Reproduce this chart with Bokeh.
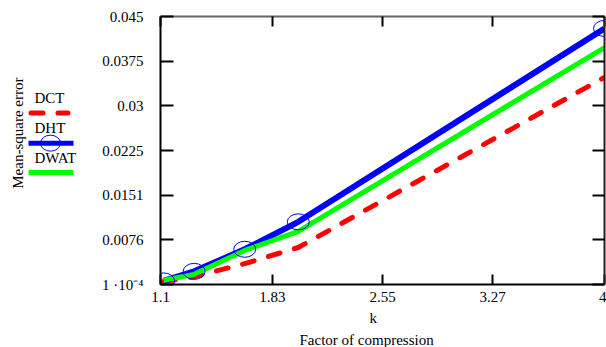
import math
from bokeh.plotting import figure
from bokeh.models import Range1d, LinearAxis, FixedTicker, Title
from bokeh.layouts import row
from bokeh.embed import file_html
from bokeh.resources import INLINE
from bokeh.core.properties import value

# ---- data ----
k_vals = [1.12, 1.32, 1.65, 2.0, 4.0]
dct_mse = [0.0006, 0.0014, 0.0036, 0.0063, 0.0348]
dht_mse = [0.0007, 0.0023, 0.0060, 0.0106, 0.0430]
dwat_mse = [0.0008, 0.0018, 0.0058, 0.0090, 0.0398]

x_ticks = [1.1, 1.83, 2.55, 3.27, 4.0]
x_tick_labels = ["1.1", "1.83", "2.55", "3.27", "4"]
y_ticks = [0.0001, 0.00758, 0.01507, 0.02255, 0.03003, 0.03752, 0.045]
y_tick_labels = ["1 \u00b710\u207b\u2074", "0.0076", "0.0151", "0.0225", "0.03", "0.0375", "0.045"]

series_names = ["DCT", "DHT", "DWAT"]
FONT = "Liberation Serif"
FS = "15px"
RED, BLUE, GREEN = "#ff0000", "#0000ff", "#00ff00"

H = 347
LW = 83
X0, X1 = 1.1, 4.0
Y0, Y1 = 0.0001, 0.045
FL, FR, FT, FB = 160, 604, 16, 284   # frame edges in page pixels

# ---------------- legend / y-title panel ----------------
lg = figure(width=LW, height=H, x_range=Range1d(0, LW), y_range=Range1d(H, 0),
            output_backend="svg", toolbar_location=None, min_border=0)
lg.axis.visible = False
lg.grid.visible = False
lg.outline_line_color = None
lg.text(x=[17], y=[151], text=["Mean-square error"], angle=math.pi / 2,
        text_font=value(FONT), text_font_size=value(FS), text_align="center",
        text_baseline="middle", text_color="#000000")
lg.text(x=[34, 34, 34], y=[106, 144, 183], text=series_names,
        text_font=value(FONT), text_font_size=value(FS), text_align="left",
        text_baseline="middle", text_color="#000000")
lg.line([30.5, 67.5], [125, 125], line_color=RED, line_width=5,
        line_dash="12 15", line_cap="round")
lg.line([28, 73], [164, 164], line_color=BLUE, line_width=5)
lg.ellipse(x=[50], y=[164], width=20, height=16, width_units="screen",
           height_units="screen", fill_color=None, line_color=BLUE, line_width=1)
lg.line([28, 73], [202, 202], line_color=GREEN, line_width=5)

# ---------------- main plot ----------------
p = figure(width=606 - LW, height=H, x_range=Range1d(X0, X1),
           y_range=Range1d(Y0, Y1), output_backend="svg",
           toolbar_location=None, min_border_left=FL - LW, min_border_right=606 - FR,
           min_border_top=FT, min_border_bottom=H - FB)
p.grid.visible = False
p.outline_line_color = None

p.line(k_vals, dct_mse, line_color=RED, line_width=5, line_dash="12 15",
       line_cap="round")
p.line(k_vals, dht_mse, line_color=BLUE, line_width=6)
p.line(k_vals, dwat_mse, line_color=GREEN, line_width=5)
p.ellipse(x=k_vals, y=dht_mse, width=22, height=16, width_units="screen",
          height_units="screen", fill_color=None, line_color=BLUE, line_width=1)


def style_axis(ax, ticks, labels, tick_in, show_labels, color="#000000"):
    ax.ticker = FixedTicker(ticks=ticks)
    ax.major_label_overrides = {t: l for t, l in zip(ticks, labels)}
    ax.minor_tick_line_color = None
    ax.major_tick_in = tick_in
    ax.major_tick_out = 0
    ax.major_tick_line_color = "#000000"
    ax.major_tick_line_width = 2
    ax.axis_line_color = color
    ax.axis_line_width = 2
    ax.major_label_text_font = FONT
    ax.major_label_text_color = "#000000"
    if show_labels:
        ax.major_label_text_font_size = FS
    else:
        ax.major_label_text_font_size = "0px"
        ax.major_label_standoff = 0


style_axis(p.xaxis[0], x_ticks, x_tick_labels, 10, True)
p.xaxis[0].major_label_standoff = 7
style_axis(p.yaxis[0], y_ticks, y_tick_labels, 13, True)
p.yaxis[0].major_label_standoff = 17

ax_r = LinearAxis()
style_axis(ax_r, y_ticks, y_tick_labels, 12, False, "#222222")
p.add_layout(ax_r, "right")
ax_t = LinearAxis()
style_axis(ax_t, x_ticks, x_tick_labels, 10, False, "#666666")
p.add_layout(ax_t, "above")

# x-axis caption: two lines below the tick labels
for txt, off, so in [("k", 209, 7), ("Factor of compression", 139, 0)]:
    p.add_layout(Title(text=txt, align="left", offset=off, standoff=so,
                       text_font=FONT, text_font_size=FS,
                       text_font_style="normal", text_color="#000000"), "below")

layout = row(lg, p)
open("out.html", "w").write(file_html(layout, INLINE))
